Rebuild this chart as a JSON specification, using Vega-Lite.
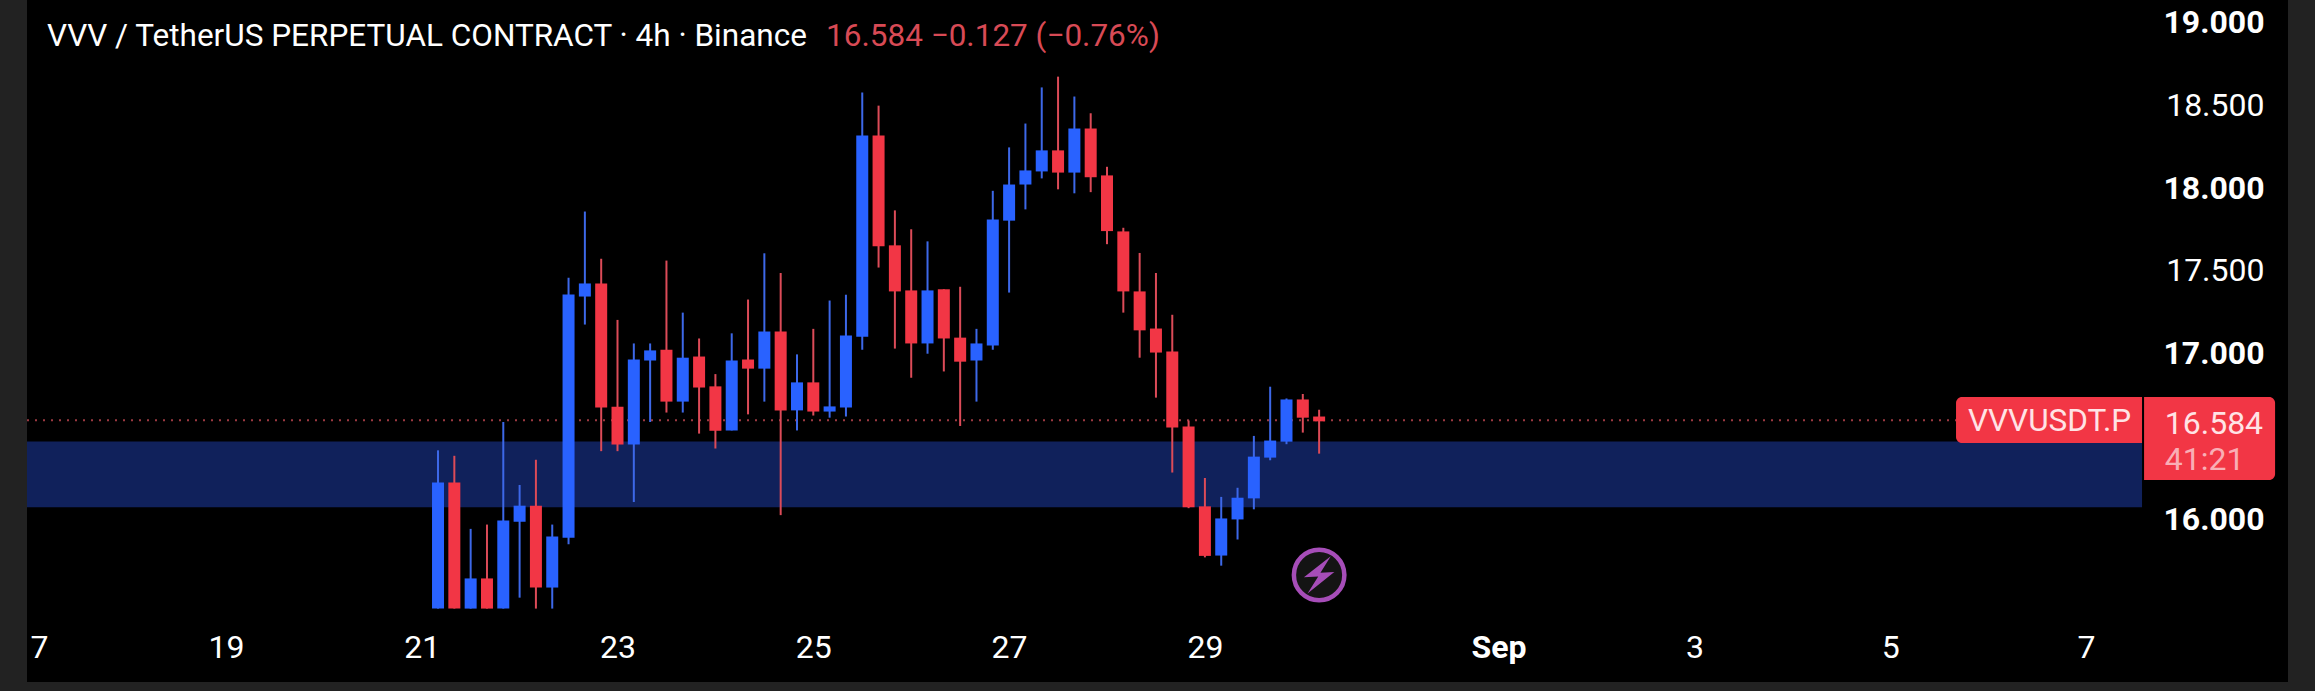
{
"$schema":"https://vega.github.io/schema/vega-lite/v6.json",
"width":2261,"height":682,
"autosize":{"type":"none"},
"padding":{"left":27,"top":0,"right":27,"bottom":9},
"background":"#222222",
"view":{"fill":"#000000","stroke":null},
"config":{"axis":{"title":null,"grid":false,"domain":false,"ticks":false},"text":{"font":"Roboto"}},
"datasets":{
"candles":[
{"t":"2025-08-21T04:00:00Z","open":15.447,"high":16.402,"low":15.447,"close":16.208},
{"t":"2025-08-21T08:00:00Z","open":16.208,"high":16.369,"low":15.447,"close":15.447},
{"t":"2025-08-21T12:00:00Z","open":15.447,"high":15.928,"low":15.447,"close":15.629},
{"t":"2025-08-21T16:00:00Z","open":15.629,"high":15.954,"low":15.447,"close":15.447},
{"t":"2025-08-21T20:00:00Z","open":15.447,"high":16.573,"low":15.447,"close":15.978},
{"t":"2025-08-22T00:00:00Z","open":15.971,"high":16.193,"low":15.513,"close":16.068},
{"t":"2025-08-22T04:00:00Z","open":16.068,"high":16.345,"low":15.447,"close":15.574},
{"t":"2025-08-22T08:00:00Z","open":15.574,"high":15.954,"low":15.447,"close":15.882},
{"t":"2025-08-22T12:00:00Z","open":15.875,"high":17.444,"low":15.835,"close":17.343},
{"t":"2025-08-22T16:00:00Z","open":17.330,"high":17.843,"low":17.161,"close":17.409},
{"t":"2025-08-22T20:00:00Z","open":17.409,"high":17.558,"low":16.397,"close":16.661},
{"t":"2025-08-23T00:00:00Z","open":16.665,"high":17.189,"low":16.397,"close":16.437},
{"t":"2025-08-23T04:00:00Z","open":16.437,"high":17.047,"low":16.090,"close":16.950},
{"t":"2025-08-23T08:00:00Z","open":16.944,"high":17.047,"low":16.573,"close":17.005},
{"t":"2025-08-23T12:00:00Z","open":17.009,"high":17.547,"low":16.630,"close":16.696},
{"t":"2025-08-23T16:00:00Z","open":16.696,"high":17.233,"low":16.630,"close":16.961},
{"t":"2025-08-23T20:00:00Z","open":16.968,"high":17.077,"low":16.503,"close":16.781},
{"t":"2025-08-24T00:00:00Z","open":16.788,"high":16.862,"low":16.413,"close":16.520},
{"t":"2025-08-24T04:00:00Z","open":16.522,"high":17.108,"low":16.522,"close":16.944},
{"t":"2025-08-24T08:00:00Z","open":16.950,"high":17.312,"low":16.619,"close":16.895},
{"t":"2025-08-24T12:00:00Z","open":16.895,"high":17.591,"low":16.696,"close":17.119},
{"t":"2025-08-24T16:00:00Z","open":17.119,"high":17.472,"low":16.011,"close":16.643},
{"t":"2025-08-24T20:00:00Z","open":16.643,"high":16.981,"low":16.522,"close":16.812},
{"t":"2025-08-25T00:00:00Z","open":16.812,"high":17.135,"low":16.612,"close":16.636},
{"t":"2025-08-25T04:00:00Z","open":16.636,"high":17.306,"low":16.599,"close":16.667},
{"t":"2025-08-25T08:00:00Z","open":16.661,"high":17.341,"low":16.606,"close":17.095},
{"t":"2025-08-25T12:00:00Z","open":17.088,"high":18.561,"low":17.009,"close":18.302},
{"t":"2025-08-25T16:00:00Z","open":18.302,"high":18.482,"low":17.505,"close":17.633},
{"t":"2025-08-25T20:00:00Z","open":17.639,"high":17.850,"low":17.016,"close":17.361},
{"t":"2025-08-26T00:00:00Z","open":17.367,"high":17.736,"low":16.840,"close":17.047},
{"t":"2025-08-26T04:00:00Z","open":17.047,"high":17.663,"low":16.985,"close":17.367},
{"t":"2025-08-26T08:00:00Z","open":17.374,"high":17.374,"low":16.878,"close":17.077},
{"t":"2025-08-26T12:00:00Z","open":17.082,"high":17.389,"low":16.549,"close":16.937},
{"t":"2025-08-26T16:00:00Z","open":16.944,"high":17.135,"low":16.696,"close":17.047},
{"t":"2025-08-26T20:00:00Z","open":17.034,"high":17.968,"low":17.009,"close":17.795},
{"t":"2025-08-27T00:00:00Z","open":17.788,"high":18.230,"low":17.354,"close":18.006},
{"t":"2025-08-27T04:00:00Z","open":18.006,"high":18.374,"low":17.856,"close":18.091},
{"t":"2025-08-27T08:00:00Z","open":18.085,"high":18.592,"low":18.043,"close":18.212},
{"t":"2025-08-27T12:00:00Z","open":18.212,"high":18.657,"low":17.977,"close":18.078},
{"t":"2025-08-27T16:00:00Z","open":18.078,"high":18.537,"low":17.953,"close":18.344},
{"t":"2025-08-27T20:00:00Z","open":18.344,"high":18.436,"low":17.960,"close":18.050},
{"t":"2025-08-28T00:00:00Z","open":18.061,"high":18.113,"low":17.646,"close":17.725},
{"t":"2025-08-28T04:00:00Z","open":17.723,"high":17.745,"low":17.233,"close":17.361},
{"t":"2025-08-28T08:00:00Z","open":17.361,"high":17.593,"low":16.961,"close":17.126},
{"t":"2025-08-28T12:00:00Z","open":17.137,"high":17.472,"low":16.720,"close":16.992},
{"t":"2025-08-28T16:00:00Z","open":16.999,"high":17.220,"low":16.268,"close":16.540},
{"t":"2025-08-28T20:00:00Z","open":16.546,"high":16.582,"low":16.053,"close":16.059},
{"t":"2025-08-29T00:00:00Z","open":16.064,"high":16.235,"low":15.756,"close":15.765},
{"t":"2025-08-29T04:00:00Z","open":15.767,"high":16.121,"low":15.706,"close":15.991},
{"t":"2025-08-29T08:00:00Z","open":15.985,"high":16.176,"low":15.864,"close":16.116},
{"t":"2025-08-29T12:00:00Z","open":16.112,"high":16.489,"low":16.046,"close":16.364},
{"t":"2025-08-29T16:00:00Z","open":16.358,"high":16.786,"low":16.342,"close":16.461},
{"t":"2025-08-29T20:00:00Z","open":16.454,"high":16.715,"low":16.439,"close":16.709},
{"t":"2025-08-30T00:00:00Z","open":16.709,"high":16.742,"low":16.509,"close":16.599},
{"t":"2025-08-30T04:00:00Z","open":16.606,"high":16.647,"low":16.382,"close":16.577}
]
},
"layer":[
{"data":{"values":[{"p":15.5},{"p":16},{"p":16.5},{"p":17},{"p":17.5},{"p":18},{"p":18.5},{"p":19}]},
 "transform":[{"calculate":"'2025-08-16T23:14:24Z'","as":"a"},{"calculate":"'2025-09-07T13:44:00Z'","as":"b"}],
 "mark":{"type":"rule","color":"#161616","strokeWidth":1.5},
 "encoding":{
  "x":{"field":"a","type":"temporal","scale":{"type":"utc","domain":["2025-08-16T23:14:24Z","2025-09-09T01:31:00Z"],"nice":false,"padding":0},
   "axis":{"orient":"bottom","values":["2025-08-17T00:00:00Z","2025-08-19T00:00:00Z","2025-08-21T00:00:00Z","2025-08-23T00:00:00Z","2025-08-25T00:00:00Z","2025-08-27T00:00:00Z","2025-08-29T00:00:00Z","2025-09-01T00:00:00Z","2025-09-03T00:00:00Z","2025-09-05T00:00:00Z","2025-09-07T00:00:00Z"],
    "labelExpr":"utcdate(datum.value)==1?'Sep':utcdate(datum.value)==17?'7':''+utcdate(datum.value)",
    "labelFont":"Roboto","labelFontSize":32,"labelColor":"#ffffff","labelPadding":-35,"labelBaseline":"middle","labelOverlap":false,"labelBound":false,"labelFlush":false,
    "labelAlign":{"condition":{"test":"utcdate(datum.value)==17","value":"left"},"value":"center"},
    "labelFontWeight":{"condition":{"test":"utcdate(datum.value)==1","value":"bold"},"value":"normal"}}},
  "x2":{"field":"b"},
  "y":{"field":"p","type":"quantitative","scale":{"domain":[15.004,19.1195],"nice":false,"zero":false},
   "axis":{"orient":"right","values":[16,17,17.5,18,18.5,19],"format":".3f","labelFont":"Roboto","labelFontSize":32,"labelColor":"#ffffff","labelAlign":"right","labelBaseline":"middle","labelPadding":-24,"labelOffset":2.5,"labelOverlap":false,"labelBound":false,"labelFlush":false,
    "labelFontWeight":{"condition":{"test":"datum.value==17.5||datum.value==18.5","value":"normal"},"value":"bold"}}}
 }},
{"data":{"values":[{"a":"2025-08-16T23:14:24Z","b":"2025-09-07T13:44:00Z","p1":16.455,"p2":16.059}]},
 "mark":{"type":"rect","color":"#10215B"},
 "encoding":{"x":{"field":"a","type":"temporal"},"x2":{"field":"b"},"y":{"field":"p1","type":"quantitative"},"y2":{"field":"p2"}}},
{"data":{"values":[{"a":"2025-08-16T23:14:24Z","b":"2025-09-05T16:08:00Z","p":16.584}]},
 "mark":{"type":"rule","color":"#E0525E","strokeWidth":2,"strokeDash":[2,6],"opacity":0.7},
 "encoding":{"x":{"field":"a","type":"temporal"},"x2":{"field":"b"},"y":{"field":"p","type":"quantitative"}}},
{"data":{"name":"candles"},
 "mark":{"type":"rule","strokeWidth":2},
 "encoding":{"x":{"field":"t","type":"temporal"},"y":{"field":"low","type":"quantitative"},"y2":{"field":"high"},
  "color":{"condition":{"test":"datum.close>=datum.open","value":"#3D68E8"},"value":"#DC4B58"}}},
{"data":{"name":"candles"},
 "mark":{"type":"bar","size":12},
 "encoding":{"x":{"field":"t","type":"temporal"},"y":{"field":"open","type":"quantitative"},"y2":{"field":"close"},
  "color":{"condition":{"test":"datum.close>=datum.open","value":"#2962FF"},"value":"#F23645"}}},
{"data":{"values":[{"a":"2025-09-05T16:08:00Z","b":"2025-09-07T13:44:00Z","p1":16.7236,"p2":16.446}]},
 "mark":{"type":"rect","color":"#F23645","cornerRadiusTopLeft":6,"cornerRadiusBottomLeft":6},
 "encoding":{"x":{"field":"a","type":"temporal"},"x2":{"field":"b"},"y":{"field":"p1","type":"quantitative"},"y2":{"field":"p2"}}},
{"data":{"values":[{"a":"2025-09-07T14:14:00Z","b":"2025-09-08T22:21:00Z","p1":16.7236,"p2":16.2227}]},
 "mark":{"type":"rect","color":"#F23645","cornerRadiusTopRight":6,"cornerRadiusBottomRight":6},
 "encoding":{"x":{"field":"a","type":"temporal"},"x2":{"field":"b"},"y":{"field":"p1","type":"quantitative"},"y2":{"field":"p2"}}},
{"data":{"values":[{"t":"2025-08-30T04:00:00Z","p":15.6494}]},
 "mark":{"type":"point","shape":"circle","size":2550,"filled":false,"stroke":"#A64DB8","strokeWidth":4.5,"fill":"#141414","fillOpacity":1},
 "encoding":{"x":{"field":"t","type":"temporal"},"y":{"field":"p","type":"quantitative"}}},
{"data":{"values":[{"t":"2025-08-30T04:00:00Z","p":15.6494}]},
 "mark":{"type":"point","shape":"M0.52,-0.84L-0.68,0.1L-0.04,0.06L-0.52,0.82L0.68,-0.14L0.06,-0.1Z","size":2000,"filled":true,"fill":"#A64DB8","opacity":1,"strokeWidth":0},
 "encoding":{"x":{"field":"t","type":"temporal"},"y":{"field":"p","type":"quantitative"}}},
{"data":{"values":[{"a":"2025-08-17T04:10:00Z","p":18.897,"s":"VVV / TetherUS PERPETUAL CONTRACT · 4h · Binance"}]},
 "mark":{"type":"text","align":"left","baseline":"middle","font":"Roboto","fontSize":31.5,"color":"#ffffff"},
 "encoding":{"x":{"field":"a","type":"temporal"},"y":{"field":"p","type":"quantitative"},"text":{"field":"s"}}},
{"data":{"values":[{"a":"2025-08-25T03:07:00Z","p":18.897,"s":"16.584 −0.127 (−0.76%)"}]},
 "mark":{"type":"text","align":"left","baseline":"middle","font":"Roboto","fontSize":31.5,"color":"#D84A55"},
 "encoding":{"x":{"field":"a","type":"temporal"},"y":{"field":"p","type":"quantitative"},"text":{"field":"s"}}},
{"data":{"values":[{"a":"2025-09-05T19:04:00Z","p":16.575,"s":"VVVUSDT.P"}]},
 "mark":{"type":"text","align":"left","baseline":"middle","font":"Roboto","fontSize":31.5,"color":"#FFE3E5"},
 "encoding":{"x":{"field":"a","type":"temporal"},"y":{"field":"p","type":"quantitative"},"text":{"field":"s"}}},
{"data":{"values":[{"a":"2025-09-07T19:18:00Z","p":16.562,"s":"16.584"}]},
 "mark":{"type":"text","align":"left","baseline":"middle","font":"Roboto","fontSize":32,"color":"#FFE3E5"},
 "encoding":{"x":{"field":"a","type":"temporal"},"y":{"field":"p","type":"quantitative"},"text":{"field":"s"}}},
{"data":{"values":[{"a":"2025-09-07T19:18:00Z","p":16.342,"s":"41:21"}]},
 "mark":{"type":"text","align":"left","baseline":"middle","font":"Roboto","fontSize":32,"color":"#F9AEB5"},
 "encoding":{"x":{"field":"a","type":"temporal"},"y":{"field":"p","type":"quantitative"},"text":{"field":"s"}}}
]
}
